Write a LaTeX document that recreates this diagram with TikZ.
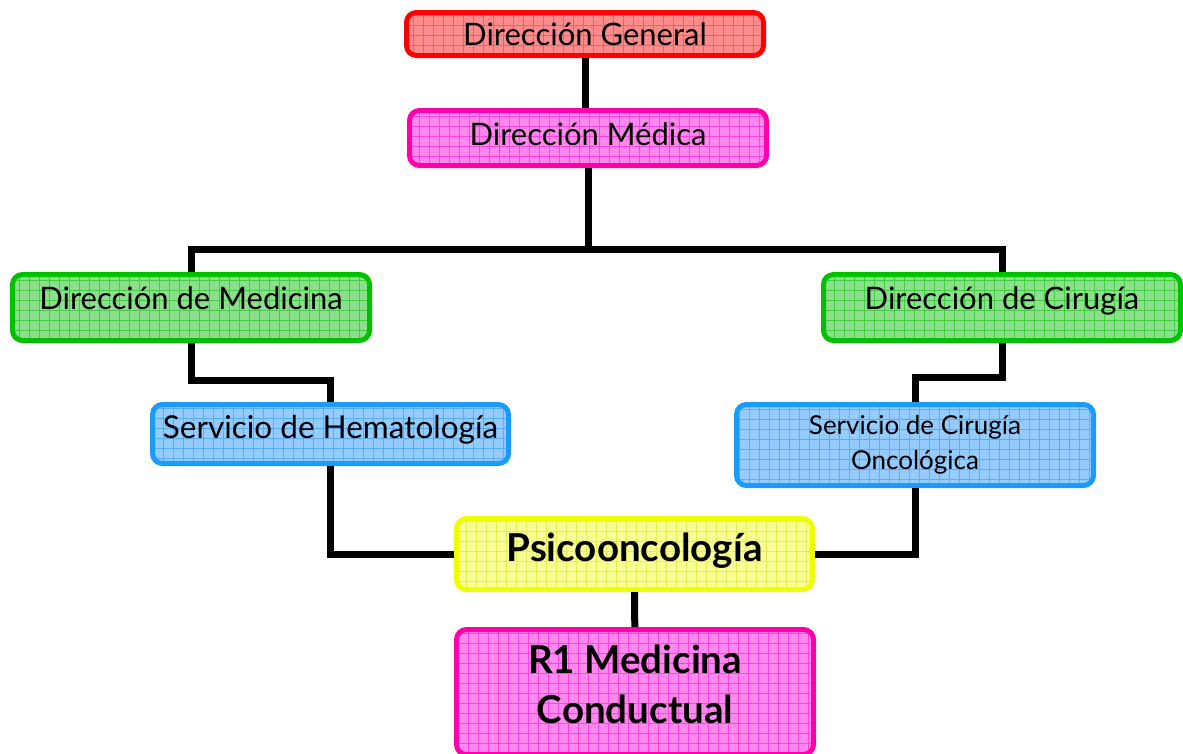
\documentclass[tikz,border=0pt]{standalone}
\usepackage{fontspec}
\setmainfont{Lato}
\usepackage{xcolor}
\usepackage{tikz}
\usetikzlibrary{positioning,calc}

\definecolor{redline}{HTML}{FF0000}
\definecolor{redfill}{HTML}{FF8C8C}
\definecolor{redgrid}{HTML}{FF5A5A}
\definecolor{magline}{HTML}{FF00AA}
\definecolor{magfill}{HTML}{FF88EE}
\definecolor{maggrid}{HTML}{FF44DD}
\definecolor{grnline}{HTML}{00C000}
\definecolor{grnfill}{HTML}{8CE08C}
\definecolor{grngrid}{HTML}{44CC44}
\definecolor{bluline}{HTML}{1A9CFF}
\definecolor{blufill}{HTML}{94CCFF}
\definecolor{blugrid}{HTML}{55AEFF}
\definecolor{yelline}{HTML}{F0FF00}
\definecolor{yelfill}{HTML}{F8FF94}
\definecolor{yelgrid}{HTML}{E4F050}

\begin{document}
\begin{tikzpicture}[x=1pt,y=-1pt,
    box/.style 2 args={draw=#1line, fill=#1fill, line width=5pt, rounded corners=10pt,
        minimum width=357pt, align=center, text=black, inner sep=0pt,
        path picture={\draw[#1grid, line width=0.7pt, step=10pt]
            (path picture bounding box.south west) grid (path picture bounding box.north east);},
        minimum height=#2},
    link/.style={line width=7pt, black}]
    \useasboundingbox (0,0) rectangle (1183,753);

    % Boxes
    \node[box={red}{43pt}, font=\fontsize{31}{34}\selectfont] (dg) at (585,34) {Dirección General};
    \node[box={mag}{55pt}, text depth=7pt, font=\fontsize{31}{34}\selectfont] (dm) at (588,138) {Dirección Médica};
    \node[box={grn}{66pt}, text depth=18pt, font=\fontsize{31}{34}\selectfont] (dmed) at (191,307.5) {Dirección de Medicina};
    \node[box={grn}{66pt}, text depth=18pt, font=\fontsize{31}{34}\selectfont] (dcir) at (1002,307.5) {Dirección de Cirugía};
    \node[box={blu}{59pt}, minimum width=356pt, text depth=14pt, font=\fontsize{31.5}{34}\selectfont] (sh) at (330.5,434) {Servicio de Hematología};
    \node[box={blu}{81pt}, font=\fontsize{26}{35}\selectfont] (sco) at (915,445) {Servicio de Cirugía\\Oncológica};
    \node[box={yel}{71pt}, minimum width=356pt, text depth=13pt, font=\fontsize{38.5}{40}\selectfont\bfseries] (psico) at (634.5,554) {Psicooncología};
    \node[box={mag}{125pt}, text depth=16pt, font=\fontsize{38.5}{50}\selectfont\bfseries] (r1) at (635,692) {R1 Medicina\\Conductual};

    % Connectors
    \coordinate (bus) at (588,249);
    \draw[link] (dg.south) -- (dg.south |- dm.north);
    \draw[link] (dm.south) -- (bus);
    \draw[link] (dmed.north) |- (bus) -| (dcir.north);
    \draw[link] (dmed.south) -- ++(0,37) -| (sh.north);
    \draw[link] (dcir.south) -- ++(0,34) -| (sco.north);
    \draw[link] (sh.south) |- (psico.west);
    \draw[link] (sco.south) |- (psico.east);
    \draw[link] (psico) -- (r1);

\end{tikzpicture}
\end{document}
